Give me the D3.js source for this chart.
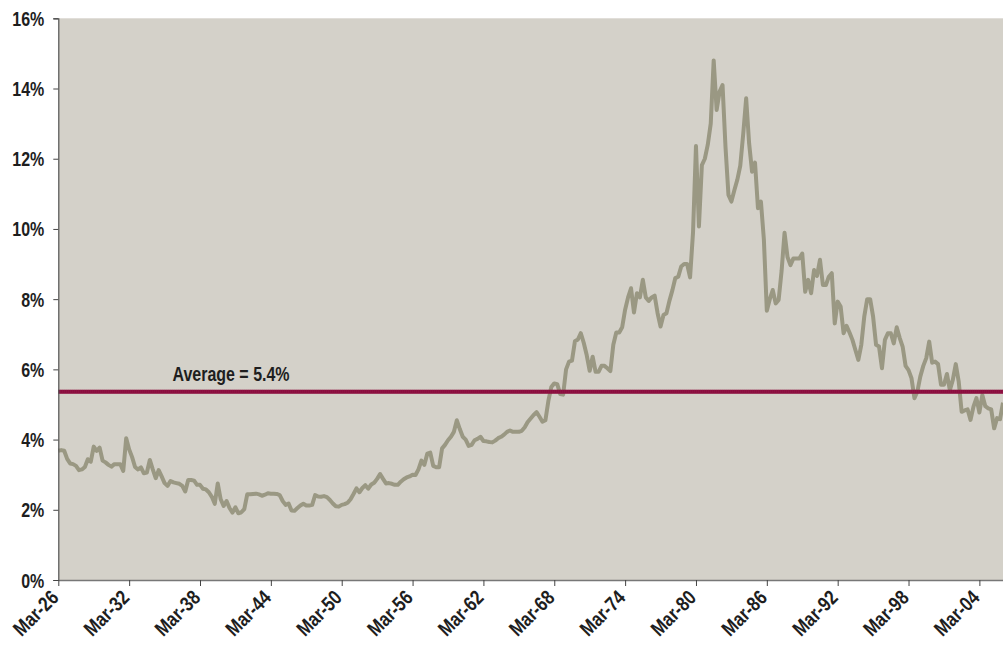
<!DOCTYPE html>
<html>
<head>
<meta charset="utf-8">
<script src="https://cdn.jsdelivr.net/npm/d3@7"></script>
<style>
  html, body { margin: 0; padding: 0; background: #ffffff; }
  svg { display: block; }
  text { font-family: 'Liberation Sans', Arial, sans-serif; font-weight: bold; fill: #1e1e1e; }
</style>
</head>
<body>
<svg id="chart" width="1003" height="646"></svg>
<script>
// Quarterly yield series (%), Mar-1926 through Mar-2006, one row per year (Mar, Jun, Sep, Dec)
const startYear = 1926;
const quarterNames = ["Mar", "Jun", "Sep", "Dec"];
const yieldPct = [
  3.68, 3.70, 3.68, 3.45,   // 1926
  3.32, 3.30, 3.25, 3.13,   // 1927
  3.15, 3.22, 3.44, 3.37,   // 1928
  3.80, 3.68, 3.77, 3.40,   // 1929
  3.35, 3.28, 3.23, 3.30,   // 1930
  3.30, 3.30, 3.11, 4.04,   // 1931
  3.72, 3.50, 3.22, 3.15,   // 1932
  3.21, 3.04, 3.06, 3.42,   // 1933
  3.15, 2.90, 3.13, 2.95,   // 1934
  2.76, 2.68, 2.82, 2.78,   // 1935
  2.76, 2.74, 2.68, 2.52,   // 1936
  2.85, 2.85, 2.83, 2.71,   // 1937
  2.71, 2.60, 2.58, 2.50,   // 1938
  2.37, 2.17, 2.75, 2.30,   // 1939
  2.11, 2.25, 2.05, 1.92,   // 1940
  2.07, 1.90, 1.93, 2.02,   // 1941
  2.44, 2.44, 2.45, 2.46,   // 1942
  2.44, 2.40, 2.43, 2.47,   // 1943
  2.46, 2.46, 2.45, 2.42,   // 1944
  2.25, 2.14, 2.18, 1.98,   // 1945
  1.97, 2.05, 2.12, 2.17,   // 1946
  2.12, 2.12, 2.14, 2.42,   // 1947
  2.38, 2.37, 2.39, 2.36,   // 1948
  2.28, 2.18, 2.10, 2.09,   // 1949
  2.14, 2.16, 2.20, 2.30,   // 1950
  2.45, 2.61, 2.50, 2.62,   // 1951
  2.70, 2.60, 2.72, 2.77,   // 1952
  2.88, 3.02, 2.88, 2.75,   // 1953
  2.76, 2.74, 2.71, 2.71,   // 1954
  2.80, 2.87, 2.92, 2.95,   // 1955
  3.00, 2.99, 3.15, 3.40,   // 1956
  3.28, 3.60, 3.63, 3.25,   // 1957
  3.21, 3.21, 3.75, 3.85,   // 1958
  3.98, 4.08, 4.22, 4.55,   // 1959
  4.30, 4.08, 4.00, 3.82,   // 1960
  3.85, 3.98, 4.02, 4.08,   // 1961
  3.96, 3.95, 3.93, 3.92,   // 1962
  3.97, 4.04, 4.08, 4.14,   // 1963
  4.22, 4.26, 4.22, 4.22,   // 1964
  4.22, 4.25, 4.35, 4.50,   // 1965
  4.60, 4.70, 4.78, 4.65,   // 1966
  4.51, 4.55, 5.10, 5.50,   // 1967
  5.60, 5.58, 5.30, 5.28,   // 1968
  6.00, 6.22, 6.25, 6.80,   // 1969
  6.85, 7.03, 6.75, 6.40,   // 1970
  5.96, 6.36, 5.93, 5.93,   // 1971
  6.10, 6.10, 6.03, 5.95,   // 1972
  6.70, 7.05, 7.05, 7.20,   // 1973
  7.70, 8.05, 8.31, 7.62,   // 1974
  8.17, 8.05, 8.55, 8.05,   // 1975
  7.95, 8.05, 8.10, 7.60,   // 1976
  7.22, 7.55, 7.60, 7.95,   // 1977
  8.25, 8.60, 8.64, 8.93,   // 1978
  9.00, 9.00, 8.62, 9.90,   // 1979
  12.36, 10.07, 11.82, 12.00, // 1980
  12.40, 13.00, 14.80, 13.39, // 1981
  13.91, 14.10, 12.34, 10.97, // 1982
  10.78, 11.10, 11.40, 11.80, // 1983
  12.70, 13.72, 12.44, 11.63, // 1984
  11.89, 10.59, 10.78, 9.70,  // 1985
  7.67, 8.00, 8.26, 7.88,   // 1986
  7.98, 8.80, 9.89, 9.20,   // 1987
  8.97, 9.16, 9.16, 9.16,   // 1988
  9.30, 8.21, 8.55, 8.17,   // 1989
  8.83, 8.66, 9.12, 8.40,   // 1990
  8.40, 8.64, 8.74, 7.31,   // 1991
  7.93, 7.79, 7.03, 7.24,   // 1992
  7.05, 6.84, 6.55, 6.27,   // 1993
  6.70, 7.50, 8.00, 8.00,   // 1994
  7.50, 6.70, 6.65, 6.03,   // 1995
  6.84, 7.03, 7.03, 6.74,   // 1996
  7.20, 6.90, 6.65, 6.10,   // 1997
  5.98, 5.75, 5.18, 5.37,   // 1998
  5.80, 6.10, 6.32, 6.79,   // 1999
  6.19, 6.22, 6.15, 5.56,   // 2000
  5.56, 5.87, 5.41, 5.70,   // 2001
  6.15, 5.65, 4.79, 4.83,   // 2002
  4.86, 4.56, 4.94, 5.18,   // 2003
  4.77, 5.27, 4.95, 4.89,   // 2004
  4.86, 4.32, 4.61, 4.58,   // 2005
  5.05                      // 2006
];

// Category labels, one per quarter, e.g. "Mar-26"
const categories = yieldPct.map((_, i) =>
  quarterNames[i % 4] + "-" + String((startYear + Math.floor(i / 4)) % 100).padStart(2, "0"));

const xTickLabels = ["Mar-26", "Mar-32", "Mar-38", "Mar-44", "Mar-50", "Mar-56", "Mar-62",
                     "Mar-68", "Mar-74", "Mar-80", "Mar-86", "Mar-92", "Mar-98", "Mar-04"];
const yTicks = [0, 2, 4, 6, 8, 10, 12, 14, 16];
const averageYield = 5.36;

// Condensed look: bold sans squeezed horizontally
const narrow = "scale(0.82,1)";
const fontSize = "19.5px";

const svg = d3.select("#chart");
const plot = { left: 58.3, right: 1003, top: 18.3, bottom: 580 };

const x = d3.scalePoint().domain(categories).range([plot.left, plot.right]);
const y = d3.scaleLinear().domain([0, 16]).range([plot.bottom, plot.top]);

// Plot background
svg.append("rect")
  .attr("x", plot.left).attr("y", plot.top)
  .attr("width", plot.right - plot.left).attr("height", plot.bottom - plot.top)
  .attr("fill", "#d4d1c9");

// Yield line
const line = d3.line()
  .x((d, i) => x(categories[i]))
  .y(d => y(d));

svg.append("path")
  .datum(yieldPct)
  .attr("d", line)
  .attr("fill", "none")
  .attr("stroke", "#9a9883")
  .attr("stroke-width", 4)
  .attr("stroke-linejoin", "round")
  .attr("stroke-linecap", "butt");

// Long-run average
const avgY = y(averageYield);
svg.append("line")
  .attr("x1", plot.left).attr("x2", plot.right)
  .attr("y1", avgY).attr("y2", avgY)
  .attr("stroke", "#880a3b").attr("stroke-width", 4);
svg.append("line")
  .attr("x1", plot.left).attr("x2", plot.right)
  .attr("y1", avgY).attr("y2", avgY)
  .attr("stroke", "#9c2455").attr("stroke-width", 4)
  .attr("stroke-dasharray", "1,1").attr("opacity", 0.5);

svg.append("text")
  .attr("transform", `translate(${x("Mar-38") + 31},${avgY - 11}) ${narrow}`)
  .attr("text-anchor", "middle")
  .style("font-size", fontSize)
  .text("Average = " + d3.format(".1f")(averageYield) + "%");

// Y axis
const yAxis = svg.append("g")
  .attr("transform", `translate(${plot.left},0)`)
  .call(d3.axisLeft(y).tickValues(yTicks).tickFormat(d => d + "%").tickSize(5).tickPadding(0));
yAxis.select(".domain").attr("stroke", "#555").attr("stroke-width", 1.2);
yAxis.selectAll(".tick line").attr("stroke", "#444");
yAxis.selectAll(".tick text")
  .style("font-size", fontSize)
  .attr("x", 0).attr("dy", "0.36em")
  .attr("transform", `translate(-14,0) ${narrow}`);

// X axis
const xAxis = svg.append("g")
  .attr("transform", `translate(0,${plot.bottom})`)
  .call(d3.axisBottom(x).tickValues(xTickLabels).tickSize(6).tickSizeOuter(0));
xAxis.select(".domain").attr("stroke", "#777").attr("stroke-width", 1.6);
xAxis.selectAll(".tick line").attr("stroke", "#444");
xAxis.selectAll(".tick text")
  .style("font-size", "20.5px")
  .attr("text-anchor", "end")
  .attr("y", 0).attr("dy", 0)
  .attr("transform", `translate(1,19) rotate(-45) ${narrow}`);
</script>
</body>
</html>
